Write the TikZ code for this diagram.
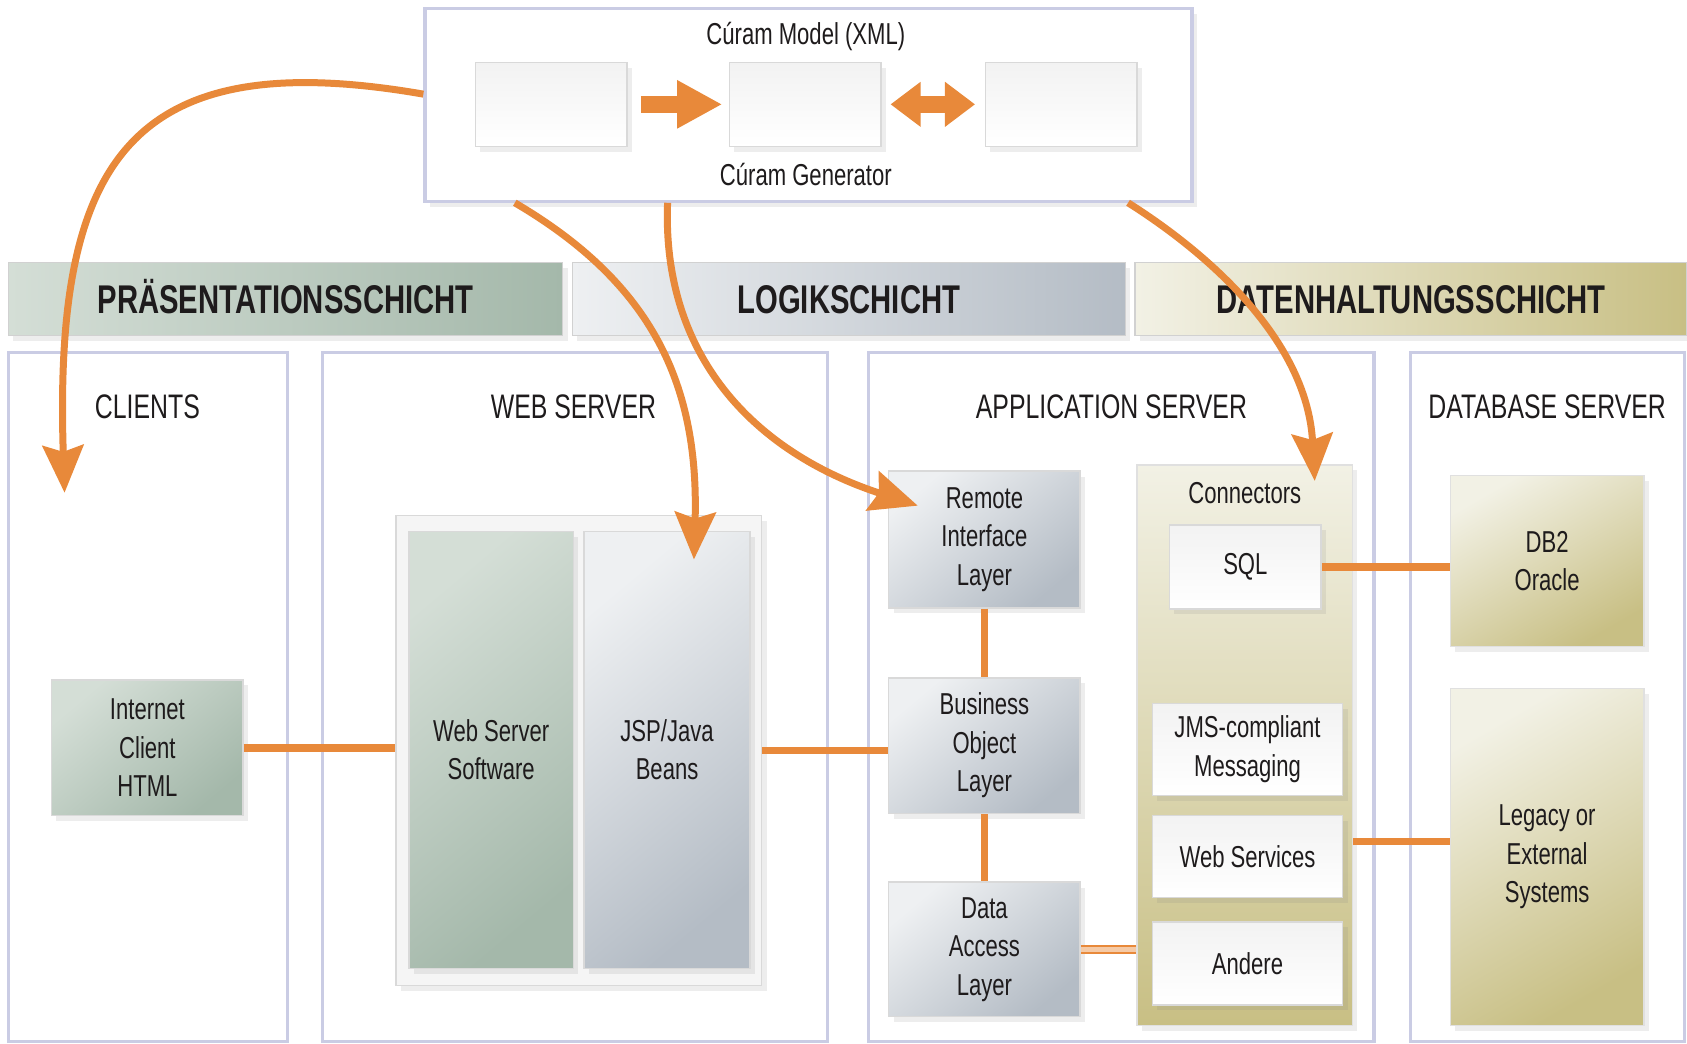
\documentclass[tikz,border=0pt]{standalone}
\usepackage{fontspec}
\setmainfont[FakeStretch=0.73]{Liberation Sans}
\usepackage{xcolor}
\usepackage{tikz}
\usetikzlibrary{arrows.meta, positioning, shadows, calc, backgrounds}
\definecolor{curamorange}{RGB}{232,137,58}
\definecolor{rahmenlila}{RGB}{202,204,228}
\definecolor{gruenhell}{RGB}{212,222,214}
\definecolor{gruendunkel}{RGB}{164,184,170}
\definecolor{grauhell}{RGB}{238,240,242}
\definecolor{graudunkel}{RGB}{180,188,197}
\definecolor{khakihell}{RGB}{242,241,229}
\definecolor{khakidunkel}{RGB}{200,191,132}
\definecolor{schrift}{RGB}{30,27,28}

\begin{document}
\begin{tikzpicture}[x=0.1mm, y=-0.1mm,
    every node/.style={text=schrift, font=\fontsize{8}{10.2}\selectfont, align=center},
    schatten/.style={drop shadow={opacity=0.14, shadow xshift=0.45mm, shadow yshift=-0.5mm}},
    schicht/.style={rectangle, draw=black!18, minimum height=6.8mm, text height=7.7pt, text depth=0pt, font=\bfseries\fontsize{10.6}{12}\selectfont, schatten},
    spalte/.style={rectangle, draw=rahmenlila, line width=0.3mm, fill=white, minimum height=64mm},
    spaltentitel/.style={font=\fontsize{9}{11}\selectfont},
    gruenbox/.style={rectangle, draw=black!15, top color=gruenhell, bottom color=gruendunkel, shading angle=40, schatten},
    graubox/.style={rectangle, draw=black!15, top color=grauhell, bottom color=graudunkel, shading angle=40, schatten},
    khakibox/.style={rectangle, draw=black!12, top color=khakihell, bottom color=khakidunkel, shading angle=30, schatten},
    weissbox/.style={rectangle, draw=black!15, top color=black!5, bottom color=white, schatten},
    link/.style={curamorange, line width=0.7mm},
    pfeil/.style={curamorange, line width=0.65mm, -{Stealth[length=4.4mm, width=3.8mm, inset=0.6mm]}}]

    \useasboundingbox[fill=white] (0,0) rectangle (1568,970);

    % Generator oben
    \node[rectangle, draw=rahmenlila, line width=0.3mm, fill=white, minimum width=71.3mm, minimum height=17.9mm, schatten] (generator) at (751.5,97.5) {};
    \node (modelLabel) at (749,34) {Cúram Model (XML)};
    \node[weissbox, minimum width=14.1mm, minimum height=7.8mm] (xmlA) at (512.5,97) {};
    \node[weissbox, minimum width=14.1mm, minimum height=7.8mm] (xmlB) at (748.5,97) {};
    \node[weissbox, minimum width=14.1mm, minimum height=7.8mm] (xmlC) at (986.5,97) {};
    \node (generatorLabel) at (749,162) {Cúram Generator};
    \draw[curamorange, line width=1.6mm, -{Triangle[length=4.2mm, width=4.2mm]}, shorten <=1.2mm, shorten >=0.6mm] (xmlA) -- (xmlB);
    \draw[curamorange, line width=1.6mm, {Triangle[length=2.8mm, width=4mm]}-{Triangle[length=2.8mm, width=4mm]}, shorten <=0.8mm, shorten >=0.9mm] (xmlB) -- (xmlC);

    % Schichten
    \node[schicht, left color=gruenhell, right color=gruendunkel, minimum width=51.5mm] (praes) at (265.5,278) {PRÄSENTATIONSSCHICHT};
    \node[schicht, left color=grauhell, right color=graudunkel, minimum width=51.4mm] (logik) at (789,278) {LOGIKSCHICHT};
    \node[schicht, left color=khakihell, right color=khakidunkel, minimum width=51.3mm] (daten) at (1311.5,278) {DATENHALTUNGSSCHICHT};

    % Spalten
    \node[spalte, minimum width=25.9mm] (clients) at (137.5,648) {};
    \node[spalte, minimum width=46.9mm] (webserver) at (534.5,648) {};
    \node[spalte, minimum width=47mm] (appserver) at (1042,648) {};
    \node[spalte, minimum width=25.5mm] (dbserver) at (1438.5,648) {};
    \node[spaltentitel] at (137,378) {CLIENTS};
    \node[spaltentitel] at (533,378) {WEB SERVER};
    \node[spaltentitel] at (1033,378) {APPLICATION SERVER};
    \node[spaltentitel] at (1438,378) {DATABASE SERVER};

    % Clients und Web Server
    \node[gruenbox, minimum width=17.8mm, minimum height=12.6mm] (client) at (137,695) {Internet\\Client\\HTML};
    \node[rectangle, draw=black!15, fill=black!4, minimum width=34mm, minimum height=43.7mm, schatten] (webbox) at (538,697.5) {};
    \node[gruenbox, minimum width=15.3mm, minimum height=40.6mm] (wss) at (456.5,697) {Web Server\\Software};
    \node[graubox, minimum width=15.4mm, minimum height=40.6mm] (jsp) at (620,697) {JSP/Java\\Beans};

    % Application Server
    \node[graubox, minimum width=17.8mm, minimum height=12.7mm] (remote) at (915,501.5) {Remote\\Interface\\Layer};
    \node[graubox, minimum width=17.8mm, minimum height=12.6mm] (business) at (915,693) {Business\\Object\\Layer};
    \node[graubox, minimum width=17.8mm, minimum height=12.5mm] (dataacc) at (915,882.5) {Data\\Access\\Layer};
    \node[khakibox, shading angle=0, minimum width=20mm, minimum height=52.1mm] (conn) at (1157,692.5) {};
    \node (connLabel) at (1157,458) {Connectors};
    \node[weissbox, minimum width=14.1mm, minimum height=7.8mm] (sql) at (1157.5,527) {SQL};
    \node[weissbox, minimum width=17.7mm, minimum height=7.7mm] (jms) at (1159.5,696.5) {JMS-compliant\\Messaging};
    \node[weissbox, minimum width=17.7mm, minimum height=7.6mm] (websrv) at (1159.5,796) {Web Services};
    \node[weissbox, minimum width=17.7mm, minimum height=7.7mm] (andere) at (1159.5,895.5) {Andere};

    % Database Server
    \node[khakibox, minimum width=18mm, minimum height=15.9mm] (db2) at (1438,521.5) {DB2\\Oracle};
    \node[khakibox, minimum width=18mm, minimum height=31.3mm] (legacy) at (1438,796.5) {Legacy or\\External\\Systems};

    % Verbindungen
    \draw[link] (client.east) -- (client.east -| webbox.west);
    \draw[link] (webbox.east) -- (webbox.east -| business.west);
    \draw[link] (remote.south) -- (business.north);
    \draw[link] (business.south) -- (dataacc.north);
    \draw[curamorange, line width=0.15mm, double=curamorange!45, double distance=0.45mm] (dataacc.east) -- (dataacc.east -| conn.west);
    \draw[link] (sql.east) -- (sql.east -| db2.west);
    \draw[link] ([yshift=-8.95mm]conn.east) -- ([yshift=-8.95mm]conn.east -| legacy.west);

    % Pfeile vom Generator
    \coordinate (clientsTip) at (60,458);
    \coordinate (jspTip) at (645,520);
    \coordinate (remoteTip) at (853,470);
    \coordinate (connTip) at (1222,447);
    \draw[pfeil] ([yshift=1mm]generator.west) .. controls (120,40) and (50,150) .. (clientsTip);
    \draw[pfeil] ([xshift=8.5mm]generator.south west) .. controls (600,260) and (650,350) .. (jspTip);
    \draw[pfeil] ([xshift=22.7mm]generator.south west) .. controls (615,330) and (700,420) .. (remoteTip);
    \draw[pfeil] ([xshift=-6.1mm]generator.south east) .. controls (1130,240) and (1215,320) .. (connTip);
\end{tikzpicture}
\end{document}
